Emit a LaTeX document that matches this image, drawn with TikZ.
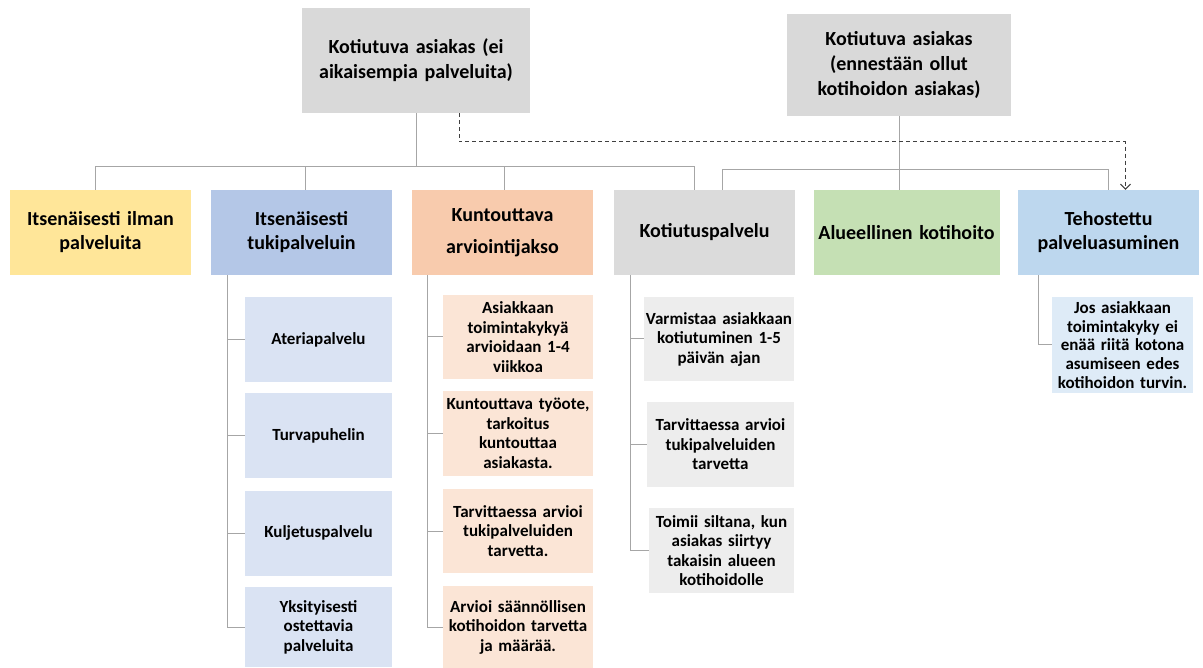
\documentclass[tikz,border=0pt]{standalone}
\usepackage{fontspec}
\setmainfont{Carlito}
\usetikzlibrary{arrows.meta}
\definecolor{topgrey}{HTML}{D9D9D9}
\definecolor{rowyellow}{HTML}{FFE699}
\definecolor{rowblue}{HTML}{B4C7E7}
\definecolor{rowpeach}{HTML}{F8CBAD}
\definecolor{rowgrey}{HTML}{DBDBDB}
\definecolor{rowgreen}{HTML}{C5E0B4}
\definecolor{rowsky}{HTML}{BDD7EE}
\definecolor{subblue}{HTML}{DAE3F3}
\definecolor{subpeach}{HTML}{FBE5D6}
\definecolor{subgrey}{HTML}{EDEDED}
\definecolor{subsky}{HTML}{DEEBF7}
\definecolor{linegrey}{HTML}{A6A6A6}

\begin{document}
\begin{tikzpicture}[x=1pt,y=-1pt,
    topbox/.style={inner sep=0pt,align=center,text width=#1,
        font=\fontsize{20}{25}\selectfont\bfseries,fill=topgrey},
    rowbox/.style={fill=#1,inner sep=0pt,minimum width=181pt,minimum height=85pt,
        text width=178pt,align=center,font=\fontsize{20}{24}\selectfont\bfseries},
    subbox/.style={fill=#1,inner sep=0pt,minimum height=85pt,align=center,
        font=\fontsize{17}{19.5}\selectfont\bfseries},
    conn/.style={draw=linegrey,line width=1pt}]
    \useasboundingbox (0,0) rectangle (1203,668);

    % ylimmät laatikot
    \node[topbox=228pt,minimum width=228pt,minimum height=105pt] (top1) at (416,60.5)
        {Kotiutuva asiakas (ei\\aikaisempia palveluita)};
    \node[topbox=224pt,minimum width=224pt,minimum height=102pt] (top2) at (899,65)
        {Kotiutuva asiakas\\(ennestään ollut\\kotihoidon asiakas)};

    % palvelurivi
    \node[rowbox=rowyellow] (b1) at (100.5,232.5) {Itsenäisesti ilman\\palveluita};
    \node[rowbox=rowblue]   (b2) at (301.5,232.5) {Itsenäisesti\\tukipalveluin};
    \node[rowbox=rowpeach,font=\fontsize{20}{32}\selectfont\bfseries] (b3) at (502.5,232.5)
        {Kuntouttava\\arviointijakso};
    \node[rowbox=rowgrey]   (b4) at (704.5,232.5) {Kotiutuspalvelu};
    \node[rowbox=rowgreen,text width=186pt] (b5) at (906.5,232.5) {Alueellinen kotihoito};
    \node[rowbox=rowsky]    (b6) at (1108.5,232.5) {Tehostettu\\palveluasuminen};

    % puun viivat
    \coordinate (busA) at (0,167);
    \coordinate (busB) at (0,170);
    \draw[conn] (top1.south) -- (top1.south |- busA);
    \draw[conn] ([xshift=-5.5pt]b1.north) |- ([xshift=-10pt]b4.north |- busA)
        -- ([xshift=-10pt]b4.north);
    \draw[conn] ([xshift=3.5pt]b2.north) -- ([xshift=3.5pt]b2.north |- busA);
    \draw[conn] ([xshift=1.5pt]b3.north) -- ([xshift=1.5pt]b3.north |- busA);
    \draw[conn] (top2.south) -- (top2.south |- b5.north);
    \draw[conn] ([xshift=18pt]b4.north) |- (b6.north |- busB) -- (b6.north);
    \draw[black!75,line width=1pt,dash pattern=on 4pt off 3pt,-{Straight Barb[length=5pt,width=10pt]}]
        ([xshift=43pt]top1.south) |- ([xshift=17pt]b6.north |- 0,142) -- ([xshift=17pt]b6.north);

    % tukipalvelut
    \node[subbox=subblue,text width=147pt] (s1) at (318.5,339.5) {Ateriapalvelu};
    \node[subbox=subblue,text width=147pt] (s2) at (318.5,435.5) {Turvapuhelin};
    \node[subbox=subblue,text width=147pt] (s3) at (318.5,533) {Kuljetuspalvelu};
    \node[subbox=subblue,text width=147pt,minimum height=80pt] (s4) at (318.5,627)
        {Yksityisesti\\ostettavia\\palveluita};
    \coordinate (t2) at ([xshift=-74.5pt]b2.south);
    \draw[conn] (t2) |- (s4.west);
    \draw[conn] (t2 |- s1.west) -- (s1.west);
    \draw[conn] (t2 |- s2.west) -- (s2.west);
    \draw[conn] (t2 |- s3.west) -- (s3.west);

    % arviointijakso
    \node[subbox=subpeach,text width=150pt,minimum height=84pt] (k1) at (518,337)
        {Asiakkaan\\toimintakykyä\\arvioidaan 1-4\\viikkoa};
    \node[subbox=subpeach,text width=150pt] (k2) at (518,433.5)
        {Kuntouttava työote,\\tarkoitus\\kuntouttaa\\asiakasta.};
    \node[subbox=subpeach,text width=150pt,minimum height=84pt] (k3) at (518,531)
        {Tarvittaessa arvioi\\tukipalveluiden\\tarvetta.};
    \node[subbox=subpeach,text width=150pt,minimum height=82pt] (k4) at (518,627)
        {Arvioi säännöllisen\\kotihoidon tarvetta\\ja määrää.};
    \coordinate (t3) at ([xshift=-75.5pt]b3.south);
    \draw[conn] (t3) |- (k4.west);
    \draw[conn] (t3 |- k1.west) -- (k1.west);
    \draw[conn] (t3 |- k2.west) -- (k2.west);
    \draw[conn] (t3 |- k3.west) -- (k3.west);

    % kotiutuspalvelu
    \node[subbox=subgrey,text width=150pt,minimum height=84pt] (v1) at (719,339)
        {Varmistaa asiakkaan\\kotiutuminen 1-5\\päivän ajan};
    \node[subbox=subgrey,text width=147pt] (v2) at (720.5,444.5)
        {Tarvittaessa arvioi\\tukipalveluiden\\tarvetta};
    \node[subbox=subgrey,text width=145pt] (v3) at (721.5,550.5)
        {Toimii siltana, kun\\asiakas siirtyy\\takaisin alueen\\kotihoidolle};
    \coordinate (t4) at ([xshift=-74.5pt]b4.south);
    \draw[conn] (t4) |- (v3.west);
    \draw[conn] (t4 |- v1.west) -- (v1.west);
    \draw[conn] (t4 |- v2.west) -- (v2.west);

    % palveluasuminen
    \node[subbox=subsky,text width=141pt,minimum height=96pt,
        font=\fontsize{17}{18.8}\selectfont\bfseries] (p1) at (1122.5,345)
        {Jos asiakkaan\\toimintakyky ei\\enää riitä kotona\\asumiseen edes\\kotihoidon turvin.};
    \coordinate (t6) at ([xshift=-70.5pt]b6.south);
    \draw[conn] (t6) |- (p1.west);
\end{tikzpicture}
\end{document}
